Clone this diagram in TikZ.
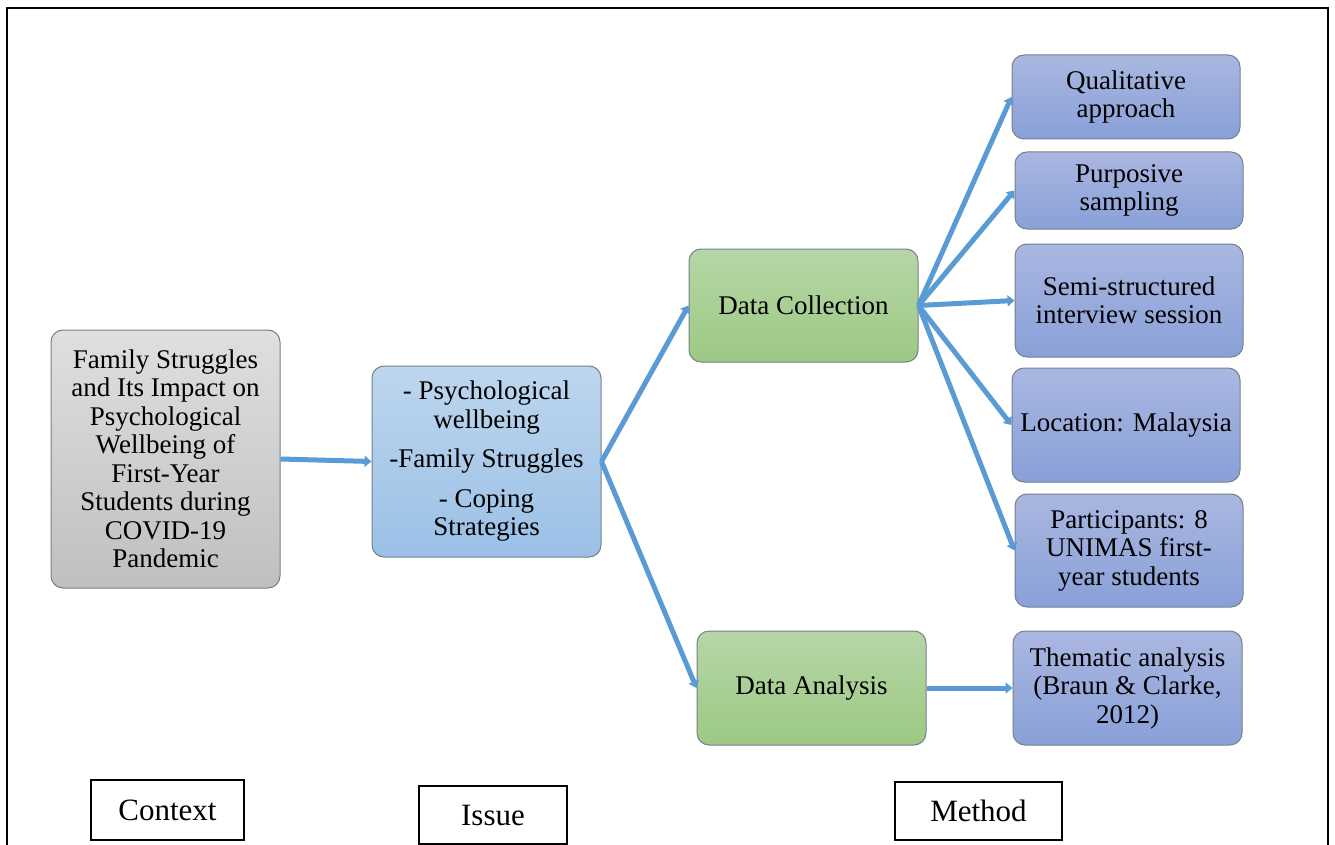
\documentclass[tikz,border=0pt]{standalone}
\usepackage{fontspec}
\setmainfont{Liberation Serif}
\usetikzlibrary{arrows.meta}
\definecolor{arr}{HTML}{5B9BD5}
\definecolor{edge}{HTML}{75808C}
\begin{document}
\begin{tikzpicture}[x=1pt,y=-1pt,
  box/.style={rectangle,rounded corners=12pt,draw=edge,line width=1pt,align=center,
    inner sep=2pt,font=\fontsize{27}{28.5}\selectfont},
  greybox/.style={box,top color=gray!25,bottom color=gray!50},
  bluebox/.style={box,top color={rgb,255:red,190;green,214;blue,238},bottom color={rgb,255:red,154;green,192;blue,230}},
  greenbox/.style={box,top color={rgb,255:red,182;green,214;blue,167},bottom color={rgb,255:red,157;green,201;blue,131}},
  methbox/.style={box,top color={rgb,255:red,170;green,183;blue,224},bottom color={rgb,255:red,137;green,160;blue,216}},
  label/.style={rectangle,draw=black,line width=1.2pt,font=\fontsize{31}{33}\selectfont,inner sep=0pt},
  conn/.style={draw=arr,line width=5pt,-{Triangle[width=11pt,length=7pt]}}
]
\useasboundingbox (0,0) rectangle (1335,845);
\draw[line width=2pt] (7,845) -- (7,8) -- (1328,8) -- (1328,845);

\node[greybox,minimum width=229pt,minimum height=258pt] (ctx) at (165.5,459)
  {Family Struggles\\and Its Impact on\\Psychological\\Wellbeing of\\First-Year\\Students during\\COVID-19\\Pandemic};
\node[bluebox,minimum width=229pt,minimum height=191pt] (iss) at (486.5,461.5)
  {- Psychological\\wellbeing\\[11pt]-Family Struggles\\[11pt]- Coping\\Strategies};
\node[greenbox,minimum width=229pt,minimum height=113pt] (dc) at (803.5,305.5) {Data Collection};
\node[greenbox,minimum width=229pt,minimum height=114pt] (da) at (811.5,688) {Data Analysis};
\node[methbox,minimum width=228pt,minimum height=84pt] (qual) at (1126,97) {Qualitative\\approach};
\node[methbox,minimum width=228pt,minimum height=77pt] (purp) at (1129,190.5) {Purposive\\sampling};
\node[methbox,minimum width=228pt,minimum height=113pt] (semi) at (1129,300.5) {Semi-structured\\interview session};
\node[methbox,minimum width=228pt,minimum height=114pt] (loc) at (1126,425) {Location: Malaysia};
\node[methbox,minimum width=228pt,minimum height=113pt] (part) at (1129,550.5) {Participants: 8\\UNIMAS first-\\year students};
\node[methbox,minimum width=229pt,minimum height=114pt] (them) at (1127.5,688) {Thematic analysis\\(Braun \& Clarke,\\2012)};

\node[label,minimum width=153pt,minimum height=60pt] (lctx) at (167.5,810) {Context};
\node[label,minimum width=148pt,minimum height=58pt] (liss) at (493,815) {Issue};
\node[label,minimum width=167pt,minimum height=58pt] (lmeth) at (978.5,811) {Method};

\draw[conn] (ctx.east) -- (iss.west);
\draw[conn] (iss.east) -- (dc.west);
\draw[conn] (iss.east) -- (da.west);
\draw[conn] (dc.east) -- (qual.west);
\draw[conn] (dc.east) -- (purp.west);
\draw[conn] (dc.east) -- (semi.west);
\draw[conn] (dc.east) -- (loc.west);
\draw[conn] (dc.east) -- (part.west);
\draw[conn] (da.east) -- (them.west);
\end{tikzpicture}
\end{document}
